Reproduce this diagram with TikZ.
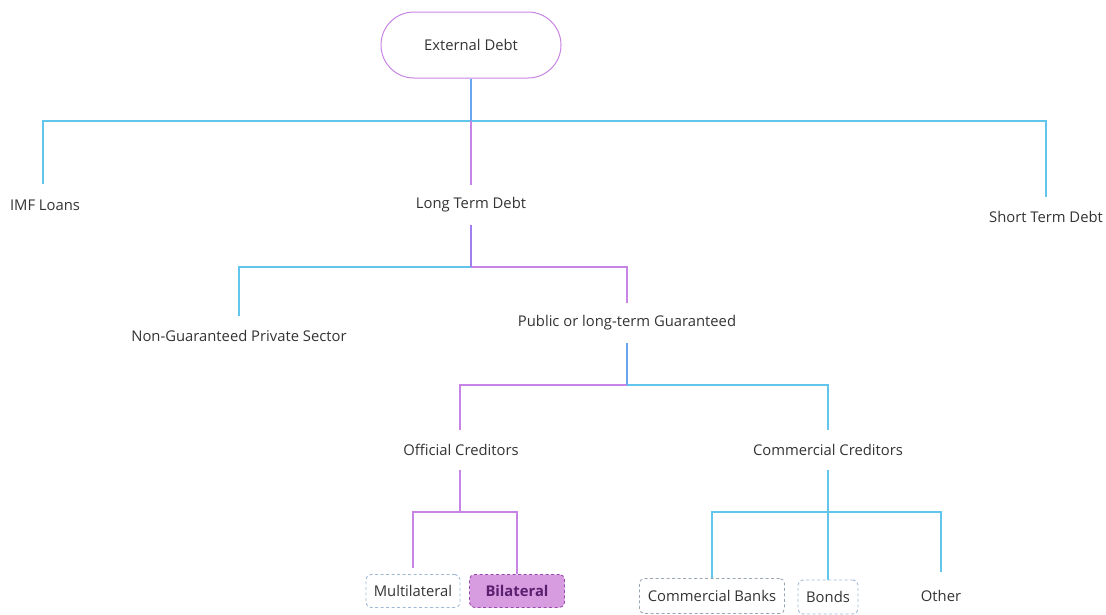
\documentclass[tikz,border=0pt]{standalone}
\usepackage{fontspec}
\setmainfont{Open Sans}
\begin{document}
\definecolor{linecyan}{HTML}{62C6EC}
\definecolor{linepurple}{HTML}{C884E4}
\definecolor{stemblue}{HTML}{6AA6F0}
\definecolor{stemviolet}{HTML}{A07EEE}
\definecolor{txt}{HTML}{333333}
\definecolor{boxfill}{HTML}{D79BE0}
\definecolor{boxedge}{HTML}{9A4AAE}
\definecolor{boldtxt}{HTML}{5A2070}
\definecolor{dashblue}{HTML}{9EB8D6}
\definecolor{dashgray}{HTML}{9AA6B4}
\begin{tikzpicture}[x=1pt,y=-1pt,
  every node/.style={font=\fontsize{14.8}{17}\selectfont, text=txt, inner sep=0pt},
  cyanline/.style={draw=linecyan, line width=1.2pt},
  purpline/.style={draw=linepurple, line width=1.2pt},
  blueline/.style={draw=stemblue, line width=1.6pt},
  violetline/.style={draw=stemviolet, line width=1.6pt},
  dashbox/.style={draw=#1, dashed, dash pattern=on 3pt off 2.5pt, rounded corners=5pt, line width=0.9pt, minimum height=33pt, inner xsep=6pt},
]
\useasboundingbox (0,0) rectangle (1106,614);

% root
\node[draw=linepurple, line width=1pt, rounded corners=33pt, minimum width=180pt, minimum height=66pt] (root) at (471,45) {External Debt};

% first level
\node (imf) at (45,205) {IMF Loans};
\node (ltd) at (471,205) {Long Term Debt};
\node (std) at (1046,217) {Short Term Debt};
\coordinate (j1) at (471,121);
\coordinate (imfTop) at (43,184);
\coordinate (stdTop) at (1046,197);
\coordinate (ltdTop) at (471,185);
\draw[cyanline] (imfTop) -- (43,121) -- (1046,121) -- (stdTop);
\draw[purpline] (j1) -- (ltdTop);
\draw[blueline] (root.south) -- (j1);

% second level
\node (ngps) at (239,336) {Non-Guaranteed Private Sector};
\node (plg) at (627,323) {Public or long-term Guaranteed};
\coordinate (j2) at (471,267);
\coordinate (ltdBot) at (471,225);
\coordinate (ngpsTop) at (239,316);
\coordinate (plgTop) at (627,303);
\draw[cyanline] (ngpsTop) -- (239,267) -- (j2);
\draw[purpline] (j2) -- (627,267) -- (plgTop);
\draw[violetline] (ltdBot) -- (j2);

% third level
\node (off) at (461,450) {Official Creditors};
\node (com) at (828,450) {Commercial Creditors};
\coordinate (j3) at (627,385);
\coordinate (plgBot) at (627,343);
\coordinate (offTop) at (460,430);
\coordinate (comTop) at (828,430);
\draw[purpline] (offTop) -- (460,385) -- (j3);
\draw[cyanline] (j3) -- (828,385) -- (comTop);
\draw[blueline] (plgBot) -- (j3);

% official creditors branch
\node[dashbox=dashblue, minimum width=94pt] (mul) at (413,591) {Multilateral};
\node[dashbox=boxedge, fill=boxfill, minimum width=95pt, text=boldtxt, font=\fontsize{14.8}{17}\selectfont\bfseries] (bil) at (517,591) {Bilateral};
\coordinate (offBot) at (460,470);
\coordinate (j4) at (460,512);
\draw[purpline] (offBot) -- (j4);
\draw[purpline] (413,568) -- (413,512) -- (517,512) -- (bil.north);

% commercial creditors branch
\node[dashbox=dashgray, minimum width=145pt, minimum height=35pt] (cb) at (712,596) {Commercial Banks};
\node[dashbox=dashblue, minimum width=60pt, minimum height=34pt] (bonds) at (828,597) {Bonds};
\node (oth) at (941,596) {Other};
\coordinate (comBot) at (828,470);
\coordinate (j5) at (828,512);
\draw[cyanline] (comBot) -- (j5);
\draw[cyanline] (cb.north) -- (712,512) -- (941,512) -- (941,572);
\draw[cyanline] (j5) -- (bonds.north);
\end{tikzpicture}
\end{document}
